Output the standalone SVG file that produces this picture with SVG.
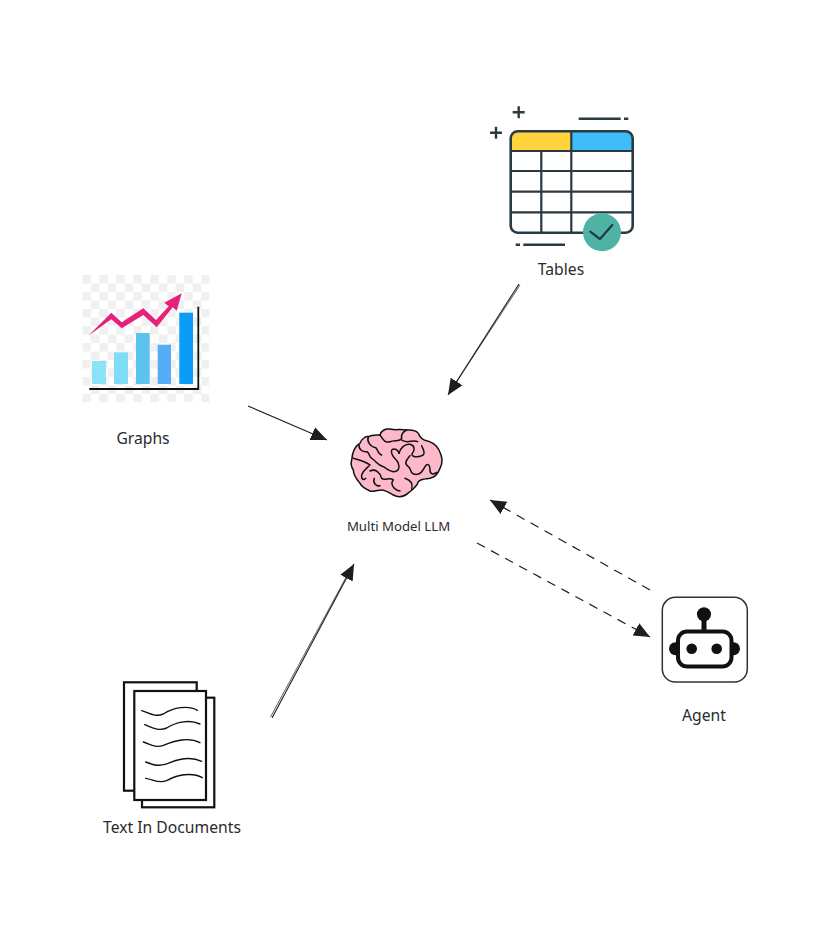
<svg xmlns="http://www.w3.org/2000/svg" width="836" height="946" viewBox="0 0 836 946">
<style>
text{font-family:"Noto Sans","Open Sans",sans-serif;fill:#2b2b2b;text-anchor:middle;font-size:15.700px}
.conn{fill:none;stroke:#1e1e1e;stroke-width:1.100}
.thin{stroke-width:.7}
.dash{stroke-dasharray:9 7;stroke-width:1.200}
.tbl{fill:none;stroke:#2b3a42;stroke-width:2.200}
.ink{fill:none;stroke:#111;stroke-linecap:round;stroke-linejoin:round;stroke-width:4.500}
.wave{fill:none;stroke:#111;stroke-linecap:round;stroke-width:4.200}
.doc{fill:#fff;stroke:#111;stroke-width:2.200}
</style>
<defs>
<marker id="head" markerUnits="userSpaceOnUse" markerWidth="20" markerHeight="18" refX="16" refY="9" orient="auto">
<path d="M0 2L16 9L0 16Z" fill="#1e1e1e"/>
</marker>
<pattern id="check" width="17" height="17" patternUnits="userSpaceOnUse" x="82.300" y="275">
<rect width="8.500" height="8.500" fill="#f0f0f0"/><rect x="8.500" y="8.500" width="8.500" height="8.500" fill="#f0f0f0"/>
</pattern>
</defs>
<rect width="836" height="946" fill="#fff"/>
<g id="connectors">
<path class="conn" d="M519 284L448 395" marker-end="url(#head)"/>
<path class="conn thin" d="M520 285L450 392"/>
<path class="conn" d="M248 406L327 440" marker-end="url(#head)"/>
<path class="conn" d="M272 718L354 564" marker-end="url(#head)"/>
<path class="conn thin" d="M270.500 717L350 570"/>
<path class="conn dash" d="M650 590L490 500" marker-end="url(#head)"/>
<path class="conn dash" d="M477 543L650 637" marker-end="url(#head)"/>
</g>
<g id="tables">
<path d="M511 151V137a6 6 0 0 1 6-6H571.300V151Z" fill="#ffd33d"/>
<path d="M571.300 151V131H627a6 6 0 0 1 6 6V151Z" fill="#3fbdfb"/>
<rect class="tbl" x="510.700" y="131.300" width="122" height="101.400" rx="7" style="stroke-width:2.600"/>
<path class="tbl" d="M511 151H632M511 171H632M511 191.700H632M511 212.300H632M541.300 151V232.700M571.300 131V232.700"/>
<circle cx="602" cy="232.300" r="19" fill="#4fb3a3"/>
<path d="M590.300 231.700L600 239L612.300 225" fill="none" stroke="#1f3a44" stroke-width="2.200" stroke-linecap="round" stroke-linejoin="round"/>
<path class="tbl" style="stroke-width:2.400" d="M512.700 112.300H524.700M518.700 106.300V118.300M490 132.700H502M496 126.700V138.700M578.700 118.700H620.700M624 118.700H628.300M515.700 244.700H520M523.300 244.700H565"/>
<text x="561" y="274.500">Tables</text>
</g>
<g id="graphs">
<rect x="82.300" y="275" width="127" height="127.300" fill="url(#check)"/>
<rect x="92" y="361" width="14" height="23" fill="#8ae3f7"/>
<rect x="114" y="352.300" width="14" height="31.700" fill="#80dcf6"/>
<rect x="136" y="333" width="13.700" height="51" fill="#5cc3ef"/>
<rect x="157.700" y="344.700" width="13.300" height="39.300" fill="#55aef5"/>
<rect x="179.300" y="312.700" width="13.700" height="71.300" fill="#0a9cf8"/>
<path d="M89.300 389H198.300V306.700" fill="none" stroke="#111" stroke-width="1.800"/>
<path d="M88.300 335.700L111.300 312.700L121.700 322.300L143.300 308.300L156 320L168.700 306.300L164.300 302.700L181.700 293.300L176.700 310.700L172.700 307.300L156.700 327.300L143.300 315L121.700 328.300L111.300 319.300Z" fill="#e6217c"/>
<text x="143" y="443.500">Graphs</text>
</g>
<g id="llm">
<g transform="translate(335 415) scale(.3333)">
<path d="M50 135C52 110 62 90 75 85C80 70 95 62 100 65C112 58 125 60 135 60C138 48 150 40 165 42C180 46 195 42 215 45C232 44 245 48 250 55C255 70 262 73 270 76C290 80 305 92 312 105C322 125 325 140 315 160C310 175 300 187 285 190C270 192 258 190 250 200C245 215 235 222 222 232C208 245 190 248 175 240C160 232 150 225 140 225C125 225 115 232 105 228C92 222 80 215 75 205C62 190 55 178 55 165C48 155 47 145 50 135Z" fill="#fdb8c9" stroke="#111" stroke-width="4.500" stroke-linejoin="round"/>
<path class="ink" d="M72 88C70 102 82 112 96 110C106 116 100 128 115 134C124 140 128 150 145 155C155 160 160 168 175 170C190 170 195 160 190 145C185 130 165 125 170 105C178 98 190 105 192 115"/>
<path class="ink" d="M100 65C95 80 105 95 122 98C130 105 128 118 140 120"/>
<path class="ink" d="M135 60C145 75 150 85 165 80C180 75 195 80 200 70C198 60 205 50 215 45"/>
<path class="ink" d="M200 75C215 88 235 72 248 80M192 115C195 100 210 85 225 88C240 92 240 105 232 115C225 125 250 130 265 120C272 110 262 100 260 92"/>
<path class="ink" d="M225 122C215 135 205 145 220 155C230 162 225 178 240 178C255 180 262 170 270 155C275 145 285 145 285 165C285 178 295 180 305 172"/>
<path class="ink" d="M55 130C75 135 90 140 105 150C95 160 85 165 80 180C78 192 85 198 92 190M105 168C120 160 135 172 140 190C150 198 165 185 175 195C165 205 175 225 195 228"/>
<path class="ink" d="M118 190C112 205 125 215 135 212M210 190C225 195 235 205 230 222"/>
</g>
<text x="398.500" y="531" style="font-size:13.200px">Multi Model LLM</text>
</g>
<g id="agent">
<rect x="662.300" y="597.300" width="85" height="84.700" rx="13" fill="#fff" stroke="#333" stroke-width="1.500"/>
<circle cx="704" cy="614.300" r="7" fill="#111"/>
<path d="M704 618V632" stroke="#111" stroke-width="5"/>
<circle cx="675.500" cy="648.700" r="6.500" fill="#111"/>
<circle cx="733.500" cy="648.700" r="6.500" fill="#111"/>
<rect x="678" y="631.500" width="53.500" height="35" rx="9" fill="#fff" stroke="#111" stroke-width="4"/>
<circle cx="691.700" cy="648.700" r="5.300" fill="#111"/>
<circle cx="716.700" cy="648.700" r="5.300" fill="#111"/>
<text x="704" y="720.500">Agent</text>
</g>
<g id="documents">
<rect class="doc" x="124" y="682.300" width="72.700" height="108.400"/>
<rect class="doc" x="142" y="697.700" width="72.300" height="109.600"/>
<rect class="doc" x="134.300" y="691" width="71.700" height="109"/>
<g transform="translate(95 670) scale(.3333)">
<path class="wave" d="M140 122C165 130 180 142 205 132C235 112 280 105 307 121"/>
<path class="wave" d="M149 164C170 172 190 185 215 174C245 155 285 148 315 162"/>
<path class="wave" d="M145 216C165 222 180 235 205 226C240 212 280 200 315 218"/>
<path class="wave" d="M152 276C175 285 195 292 225 278C255 266 290 260 320 274"/>
<path class="wave" d="M152 325C175 328 190 342 215 332C245 315 290 305 322 323"/>
</g>
<text x="172" y="832.500">Text In Documents</text>
</g>
</svg>
